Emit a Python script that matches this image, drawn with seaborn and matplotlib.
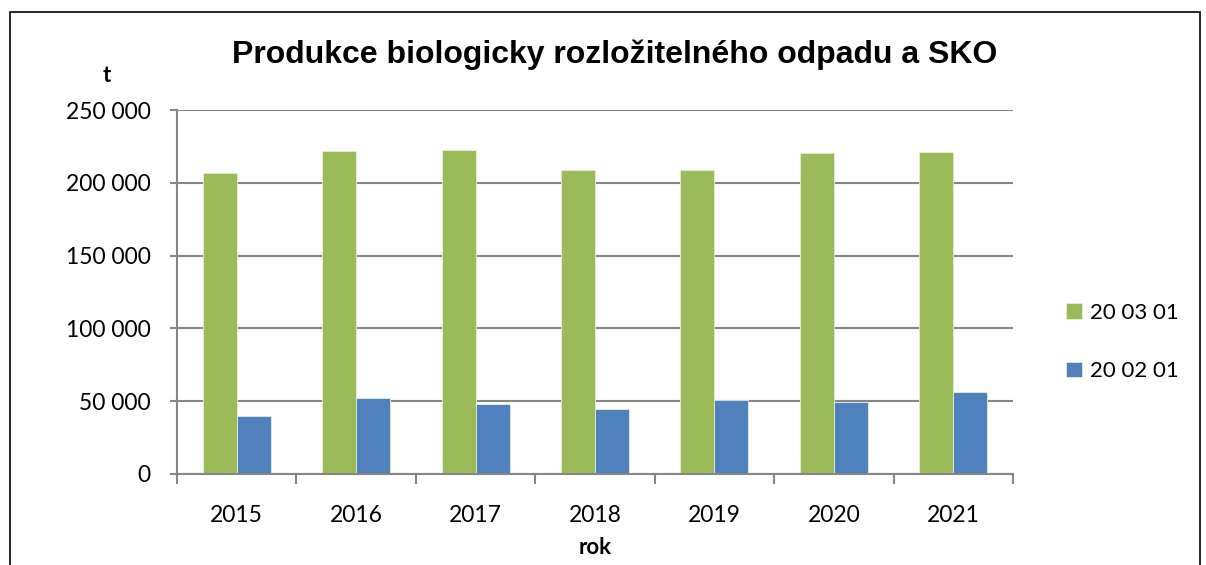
import pandas as pd
import matplotlib.pyplot as plt
import matplotlib.ticker as mticker
from matplotlib.patches import Rectangle
import seaborn as sns

# Data
years = ["2015", "2016", "2017", "2018", "2019", "2020", "2021"]
sko_200301 = [206600, 221800, 222200, 208900, 208500, 220400, 220900]
bio_200201 = [39700, 51900, 47900, 44800, 50500, 49600, 56500]
series_names = ["20 03 01", "20 02 01"]

df = pd.DataFrame({
    "rok": years * 2,
    "t": sko_200301 + bio_200201,
    "druh": [series_names[0]] * len(years) + [series_names[1]] * len(years),
})

sns.set_style("white")
plt.rcParams["font.family"] = ["Lato", "DejaVu Sans"]
plt.rcParams["text.color"] = "black"
plt.rcParams["xtick.color"] = "black"
plt.rcParams["ytick.color"] = "black"

fig = plt.figure(figsize=(12.06, 5.65), dpi=100)
ax = fig.add_axes([177 / 1206, 1 - 474 / 565, 836 / 1206, 364 / 565])

sns.barplot(data=df, x="rok", y="t", hue="druh", hue_order=series_names,
            palette=["#9BBB59", "#4F81BD"], width=0.57, saturation=1,
            edgecolor="#E6EEDA", linewidth=0.6, ax=ax)

# Axes look
ax.set_ylim(0, 250000)
ax.set_xlim(-0.5, len(years) - 0.5)
ax.yaxis.set_major_locator(mticker.MultipleLocator(50000))
ax.yaxis.set_major_formatter(mticker.FuncFormatter(lambda v, p: f"{int(v):,}".replace(",", " ")))
ax.grid(axis="y", color="#868686", linewidth=1.5)
ax.set_axisbelow(True)
for side in ["top", "right"]:
    ax.spines[side].set_visible(False)
for side in ["left", "bottom"]:
    ax.spines[side].set_color("#868686")
    ax.spines[side].set_linewidth(1.5)

ax.tick_params(axis="y", which="major", length=5, width=1.5, color="#868686",
               labelsize=16.5, pad=14, left=True, labelcolor="black")
ax.tick_params(axis="x", which="major", length=0, labelsize=16.5, pad=22, labelcolor="black")
ax.set_xticks([i - 0.5 for i in range(len(years) + 1)], minor=True)
ax.tick_params(axis="x", which="minor", length=7, width=1.5, color="#868686", bottom=True)

ax.set_xlabel("")
ax.set_ylabel("")

# Title and axis names
fig.text(615 / 1206, 1 - 55 / 565, "Produkce biologicky rozložitelného odpadu a SKO",
         ha="center", va="center", fontsize=23, fontweight="bold",
         family=["Liberation Sans", "DejaVu Sans"])
fig.text(107 / 1206, 1 - 75 / 565, "t", ha="center", va="center",
         fontsize=16, fontweight="bold")
fig.text(595 / 1206, 1 - 548 / 565, "rok", ha="center", va="center",
         fontsize=16, fontweight="bold")

# Legend on the right
ax.legend(loc="center left", bbox_to_anchor=(1046 / 1206, 1 - 342 / 565),
          bbox_transform=fig.transFigure, frameon=False, fontsize=16,
          handlelength=0.7, handleheight=0.7, handletextpad=0.4, labelspacing=1.75)

# Border round the chart
fig.patches.append(Rectangle((10 / 1206, -0.01), 1190 / 1206, 1 - 12 / 565 + 0.01,
                             transform=fig.transFigure, fill=False,
                             edgecolor="black", linewidth=1.2))

plt.savefig("out.png", dpi=100)
plt.close()
